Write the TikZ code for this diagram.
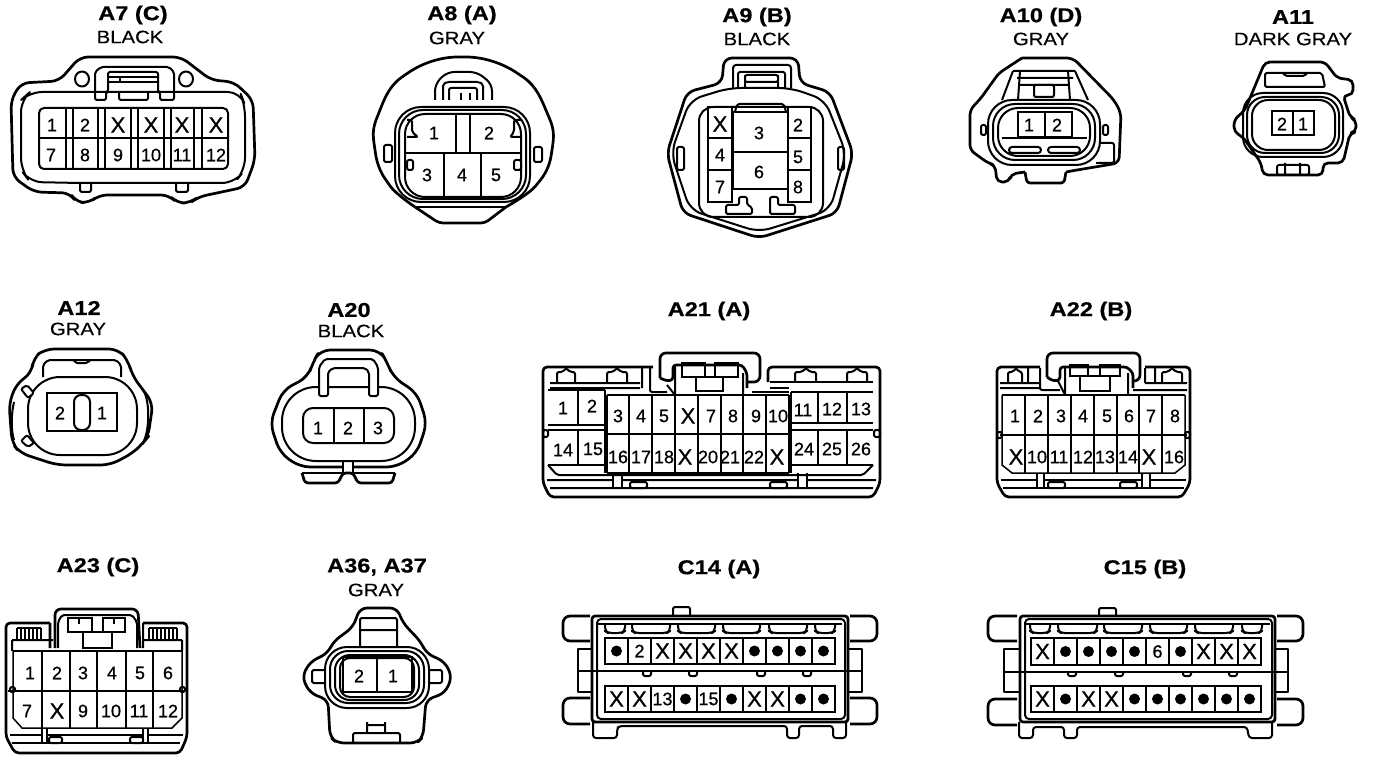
\documentclass[tikz,border=0pt]{standalone}
\usepackage{fontspec}
\setmainfont{Liberation Sans}
\newfontfamily\ttlf[FakeStretch=1.18,FakeBold=0.6]{Liberation Sans Bold}
\newfontfamily\sbtf[FakeStretch=1.13,FakeBold=0.3]{Liberation Sans}
\newfontfamily\pinf[FakeBold=0.7]{Liberation Sans}
\newcounter{pinno}
\tikzset{
 x=1pt,y=-1pt,
 ol/.style={draw=black,line width=2.7pt,rounded corners=4pt,line join=round},
 il/.style={draw=black,line width=2pt,rounded corners=2pt,line join=round},
 sharp/.style={draw=black,line width=2pt,sharp corners,line join=miter},
 thn/.style={draw=black,line width=1.5pt,sharp corners},
 ttl/.style={inner sep=0pt,font=\fontsize{20}{22}\ttlf},
 sbt/.style={inner sep=0pt,font=\fontsize{18}{20}\sbtf},
 pinl/.style={inner sep=0pt,font=\fontsize{18}{20}\pinf},
 xl/.style={inner sep=0pt,font=\fontsize{22}{24}\pinf},
 dotn/.style={circle,fill=black,inner sep=0pt,minimum size=11pt},
}
\newcommand{\pn}[3]{\stepcounter{pinno}\node[pinl] (pin\thepinno) at (#1,#2) {#3};}
\newcommand{\pinrow}[5]{% x0,y0,cell w,h,list
 \draw[sharp] (#1,#2) rectangle ({#1+10*#3},{#2+#4});
 \foreach \lab [count=\i from 0] in {#5}{
  \pgfmathsetmacro{\cx}{#1+(\i+.5)*#3}
  \pgfmathsetmacro{\cy}{#2+#4/2}
  \ifnum\i>0 \draw[sharp] ({#1+\i*#3},#2) -- ({#1+\i*#3},{#2+#4}); \fi
  \stepcounter{pinno}
  \def\tmpo{o}\def\tmpx{X}
  \ifx\lab\tmpo \node[dotn] (pin\thepinno) at (\cx,\cy) {};
  \else\ifx\lab\tmpx \node[xl] (pin\thepinno) at (\cx,\cy) {X};
  \else \node[pinl] (pin\thepinno) at (\cx,\cy) {\lab};\fi\fi
 }}
\begin{document}
\begin{tikzpicture}
\useasboundingbox (0,0) rectangle (1376,762);
\fill[white] (0,0) rectangle (1376,762);
% ---------- A7
\node[ttl] (tA7) at (133,15) {A7 (C)};
\node[sbt] (sA7) at (130,37) {BLACK};
\draw[ol,rounded corners=8pt] (80,57)--(181,57)--(211,80)--(234,82)--(253,100)--(255,160)--(245,187)--(198,197)--(190,203)--(177,203)--(169,195)--(99,195)--(89,203)--(76,202)--(70,193)--(34,192)--(13,177)--(11,100)--(21,83)--(59,81)--cycle;
\draw[il,rounded corners=12pt] (21,100)--(30,92)--(240,92)--(245,105)--(245,170)--(234,183)--(191,183)--(80,183)--(30,182)--(21,170)--cycle;
\draw[il] (80,183)--(80,192)--(91,192)--(91,183);
\draw[il] (176,183)--(176,192)--(188,192)--(188,183);
\draw[il] (95,100)--(95,72)--(101,67)--(169,67)--(174,72)--(174,100)--(160,100)--(160,92)--(158,92)--(158,72)--(108,72)--(108,92)--(106,92)--(106,100)--cycle;
\draw[il] (119,92)--(119,100)--(148,100)--(148,92);
\draw[il] (108,77)--(158,77) (108,82)--(158,82) (120,77)--(120,82);
\draw[il] (82,79) ellipse (7 and 7.5);
\draw[il] (186,79) ellipse (7 and 7.5);
\draw[il,rounded corners=5pt] (39,108)--(228,108)--(228,169)--(39,169)--cycle;
\draw[il] (39,138)--(228,138);
\foreach \a/\b in {66/73,98/105,131/138,164/171,194/202}{\draw[il] (\a,108)--(\a,169) (\b,108)--(\b,169);}
\pn{52}{125}{1}\pn{85}{125}{2}\node[xl] (x71) at (118,125) {X};\node[xl] (x72) at (151,125) {X};\node[xl] (x73) at (182,125) {X};\node[xl] (x74) at (216,125) {X};
\pn{51}{155}{7}\pn{85}{155}{8}\pn{118}{155}{9}\pn{151}{155}{10}\pn{182}{155}{11}\pn{216}{155}{12}
% ---------- A8
\node[ttl] (tA8) at (462,15) {A8 (A)};
\node[sbt] (sA8) at (457,38) {GRAY};
\draw[ol] plot[smooth,tension=.7] coordinates {(415,207)(388,183)(375,150)(378,115)(405,75)(462,57)(520,75)(548,115)(552,150)(538,183)(506,207)};
\draw[ol] (415,207)--(439,223)--(485,223)--(506,207);
\draw[il] (415,207)--(506,207);
\draw[il,rounded corners=26pt] (395,107) rectangle (530,202);
\draw[il,rounded corners=24pt] (399,110) rectangle (526,199);
\draw[il,rounded corners=20pt] (405,114) rectangle (521,197);
\draw[il,rounded corners=7pt] (435,100)--(435,84)--(447,72)--(477,72)--(492,84)--(492,100);
\draw[il] (443,100)--(443,84)--(447,82)--(479,82)--(483,84)--(483,100);
\draw[il] (449,100)--(449,88)--(477,88)--(477,100);
\draw[il] (461,93)--(461,100) (470,93)--(470,100);
\draw[il] (384,145) rectangle (392,162);
\draw[il] (534,147) rectangle (542,162);
\draw[sharp] (456,113)--(456,153) (470,113)--(470,153) (405,153)--(521,153) (444,153)--(444,197) (481,153)--(481,197);
\draw[il] (407,120)--(412,120)--(412,132)--(418,137)--(407,137);
\draw[il] (521,120)--(514,120)--(514,132)--(510,137)--(521,137);
\draw[il] (407,160) rectangle (413,170);
\draw[il] (514,160) rectangle (521,170);
\pn{434}{133}{1}\pn{489}{133}{2}\pn{427}{175}{3}\pn{462}{175}{4}\pn{496}{175}{5}
% ---------- A9
\node[ttl] (tA9) at (757,17) {A9 (B)};
\node[sbt] (sA9) at (757,39) {BLACK};
\draw[ol,rounded corners=8pt] (724,58)--(798,58)--(800,83)--(830,92)--(853,153)--(837,213)--(759,238)--(683,213)--(667,153)--(687,92)--(722,83)--cycle;
\draw[il,rounded corners=12pt] (729,88)--(791,88)--(825,100)--(846,153)--(830,210)--(759,232)--(690,210)--(671,153)--(690,100)--cycle;
\draw[il,rounded corners=14pt] (699,107) rectangle (823,217);
\draw[il,rounded corners=3pt] (733,88)--(733,65)--(791,65)--(791,88);
\draw[il] (738,88)--(738,72)--(785,72)--(785,88) (745,88)--(745,75) (778,88)--(778,75) (745,75) rectangle (778,82);
\draw[sharp] (708,107) rectangle (732,202) (708,138)--(732,138) (708,170)--(732,170);
\draw[sharp] (788,107) rectangle (811,202) (788,138)--(811,138) (788,170)--(811,170);
\draw[sharp] (733,112) rectangle (788,189) (733,152)--(788,152);
\draw[il] (735,112)--(737,104)--(784,104)--(786,112);
\draw[il] (739,197)--(747,197)--(747,205)--(752,207)--(752,214)--(726,214)--(726,205)--(739,205)--cycle;
\draw[il] (770,197)--(778,197)--(778,205)--(795,205)--(795,214)--(770,214)--cycle;
\draw[il] (677,147) rectangle (684,170);
\draw[il] (838,147) rectangle (844,170);
\node[xl] (x91) at (720,124) {X};\pn{720}{155}{4}\pn{720}{187}{7}\pn{759}{133}{3}\pn{759}{172}{6}\pn{798}{125}{2}\pn{798}{157}{5}\pn{798}{187}{8}
% ---------- A10
\node[ttl] (tA10) at (1041,17) {A10 (D)};
\node[sbt] (sA10) at (1041,39) {GRAY};
\draw[ol,rounded corners=6pt] (1022,58)--(1073,58)--(1114,100)--(1121,113)--(1119,163)--(1077,170)--(1066,172);
\draw[ol,rounded corners=3pt] (1066,172)--(1064,183)--(1027,183)--(1025,172);
\draw[ol,rounded corners=5pt] (1025,172)--(1011,174)--(1009,182)--(997,182)--(995,165)--(988,163)--(970,150)--(970,110)--(981,98)--(999,73)--(1022,58);
\draw[il,rounded corners=24pt] (988,100) rectangle (1100,165);
\draw[il,rounded corners=22pt] (993,104) rectangle (1095,160);
\draw[il,rounded corners=20pt] (998,108) rectangle (1090,156);
\draw[il] (1013,71)--(1002,100) (1075,71)--(1088,100) (1013,71)--(1075,71) (1017,78)--(1073,78) (1020,85)--(1068,85) (1020,71)--(1018,100) (1068,71)--(1070,100);
\draw[il] (1034,85) rectangle (1054,97);
\draw[sharp] (1018,112) rectangle (1072,137) (1045,112)--(1045,137) (1002,138)--(1087,138);
\draw[il,rounded corners=3pt] (1009,147) rectangle (1041,153);
\draw[il,rounded corners=3pt] (1048,147) rectangle (1080,153);
\draw[il] (981,125) rectangle (986,135);
\draw[il] (1103,125) rectangle (1108,135);
\draw[il] (1100,143)--(1114,143)--(1114,163)--(1096,163);
\pn{1029}{125}{1}\pn{1057}{125}{2}
% ---------- A11
\node[ttl] (tA11) at (1293,17) {A11};
\node[sbt] (sA11) at (1293,39) {DARK GRAY};
\draw[ol,rounded corners=5pt] (1265,62)--(1325,62)--(1337,78)--(1353,80)--(1353,95)--(1343,95)--(1350,117)--(1356,120)--(1356,132)--(1350,133)--(1343,163)--(1323,163)--(1323,175)--(1263,175)--(1261,163)--(1243,137)--(1234,132)--(1234,120)--(1245,110)--cycle;
\draw[il] (1265,73)--(1322,73)--(1325,87)--(1265,87)--cycle (1283,73)--(1285,76)--(1305,76)--(1307,73);
\draw[il,rounded corners=20pt] (1243,93) rectangle (1343,157);
\draw[il,rounded corners=18pt] (1247,97) rectangle (1339,153);
\draw[il,rounded corners=16pt] (1252,100) rectangle (1335,150);
\draw[sharp] (1272,111) rectangle (1314,135) (1293,111)--(1293,135);
\draw[il] (1277,165) rectangle (1309,175) (1285,163)--(1285,175) (1300,163)--(1300,175);
\pn{1282}{124}{2}\pn{1303}{124}{1}
% ---------- A12
\node[ttl] (tA12) at (79,308) {A12};
\node[sbt] (sA12) at (78,329) {GRAY};
\draw[ol,rounded corners=9pt] (45,349)--(118,349)--(128,360)--(132,375)--(143,390)--(153,403)--(148,437)--(143,443)--(133,453)--(110,465)--(57,465)--(20,453)--(12,443)--(9,403)--(17,383)--(32,373)--(33,358)--cycle;
\draw[il,rounded corners=32pt] (28,377) rectangle (137,455);
\draw[il] (43,377)--(43,365)--(48,360)--(116,360)--(121,365)--(121,377);
\draw[il] (74,360)--(75,363)--(88,363)--(90,360);
\draw[sharp] (47,393) rectangle (117,431);
\draw[il,rounded corners=7pt,fill=white] (74,395) rectangle (90,430);
\draw[il,fill=white] (21,389)--(27,385)--(34,393)--(28,398)--cycle (21,441)--(27,435)--(34,443)--(28,447)--cycle;
\draw[il] (143,390) .. controls (150,400) and (150,430) .. (143,443);
\draw[il] (14,402) .. controls (11,415) and (11,430) .. (14,440);
\pn{60}{413}{2}\pn{102}{413}{1}
% ---------- A20
\node[ttl] (tA20) at (349,310) {A20};
\node[sbt] (sA20) at (351,331) {BLACK};
\draw[ol,rounded corners=10pt] (343,467)--(300,467)--(280,453)--(270,423)--(283,390)--(308,377)--(313,362)--(320,350)--(380,350)--(387,362)--(393,377)--(417,393)--(427,423)--(417,453)--(397,467)--(353,467);
\draw[ol,rounded corners=3pt] (302,473)--(305,483)--(338,483)--(343,473)--(353,473)--(358,483)--(392,483)--(395,473);
\draw[il,sharp corners] (302,473)--(343,473) (353,473)--(395,473);
\draw[il,rounded corners=34pt] (282,387) rectangle (415,461);
\draw[il,fill=white] (319,396)--(319,367)--(325,359)--(373,359)--(378,367)--(378,396)--(369,396)--(369,372)--(365,368)--(333,368)--(328,372)--(328,396)--cycle;
\draw[il,rounded corners=10pt] (303,408) rectangle (394,443);
\draw[sharp] (334,408)--(334,443) (364,408)--(364,443);
\draw[il,sharp corners] (343,461)--(343,473) (353,461)--(353,473);
\pn{318}{428}{1}\pn{348}{428}{2}\pn{378}{428}{3}
% ---------- A21
\node[ttl] (tA21) at (709,311) {A21 (A)};
\draw[ol] (653,367)--(543,367)--(543,483)--(550,497)--(873,497)--(880,483)--(880,367)--(768,367)--(768,382);
\draw[ol,rounded corners=6pt] (660,378)--(660,353)--(760,353)--(760,382)--(748,382);
\draw[ol,rounded corners=3pt] (660,378)--(667,381)--(673,380)--(673,365)--(742,365)--(747,373)--(747,388);
\draw[il] (675,365)--(675,395) (743,373)--(743,395) (667,385)--(675,395);
\draw[il] (550,383)--(640,383) (550,388)--(640,388) (642,368)--(642,388) (650,368)--(650,392)--(667,392);
\draw[il] (770,382)--(873,382) (770,388)--(789,388) (752,392)--(789,392);
\draw[il] (557,383)--(557,372)--(563,372)--(566,368)--(570,372)--(575,372)--(575,383);
\draw[il] (607,383)--(607,372)--(613,372)--(617,368)--(621,372)--(627,372)--(627,383);
\draw[il] (795,382)--(795,372)--(802,372)--(806,368)--(810,372)--(816,372)--(816,382);
\draw[il] (847,382)--(847,372)--(853,372)--(857,368)--(861,372)--(867,372)--(867,382);
\draw[sharp] (682,363) rectangle (705,377) (715,363) rectangle (738,377) (696,377) rectangle (723,391);
\draw[thn] (578,390)--(578,425) (578,430)--(578,465) (548,390)--(605,390) (548,465)--(605,465);
\draw[sharp] (605,390)--(605,473) (548,425)--(605,425) (548,430)--(605,430);
\foreach \a in {607,629,652,675,698,721,743,766,789}{\draw[thn] (\a,395)--(\a,473);}
\draw[sharp] (607,395)--(789,395) (607,434)--(789,434) (607,473)--(789,473);
\draw[sharp] (791,392)--(873,392) (791,423)--(873,423) (791,430)--(873,430) (791,465)--(873,465) (791,392)--(791,473);
\draw[thn] (818,392)--(818,423) (847,392)--(847,423) (818,430)--(818,465) (847,430)--(847,465);
\draw[il] (543,430) rectangle (548,437) (874,430) rectangle (880,437);
\draw[il] (548,465)--(557,475)--(863,475)--(873,465) (547,480)--(613,480) (622,480)--(798,480) (807,480)--(876,480) (550,488)--(873,488);
\draw[il] (613,473)--(613,488) (622,473)--(622,488) (798,473)--(798,488) (807,473)--(807,488);
\draw[il] (630,482) rectangle (647,488) (770,482) rectangle (787,488);
\pn{563}{408}{1}\pn{592}{406}{2}\pn{618}{416}{3}\pn{641}{416}{4}\pn{664}{416}{5}\node[xl] (x211) at (688,416) {X};\pn{711}{416}{7}\pn{733}{416}{8}\pn{756}{416}{9}\pn{778}{416}{10}\pn{803}{410}{11}\pn{832}{409}{12}\pn{861}{409}{13}
\pn{563}{450}{14}\pn{593}{449}{15}\pn{618}{457}{16}\pn{641}{457}{17}\pn{664}{457}{18}\node[xl] (x212) at (685,457) {X};\pn{708}{457}{20}\pn{730}{457}{21}\pn{754}{457}{22}\node[xl] (x213) at (777,457) {X};\pn{804}{449}{24}\pn{832}{449}{25}\pn{861}{449}{26}
% ---------- A22
\node[ttl] (tA22) at (1091,311) {A22 (B)};
\draw[ol] (1040,367)--(997,367)--(997,483)--(1005,497)--(1182,497)--(1190,483)--(1190,367)--(1145,367);
\draw[ol,rounded corners=6pt] (1047,377)--(1047,353)--(1140,353)--(1140,381)--(1133,381);
\draw[ol,rounded corners=3pt] (1047,377)--(1053,381)--(1060,380)--(1060,367)--(1127,367)--(1133,373)--(1133,388);
\draw[il] (1065,367)--(1065,395) (1128,373)--(1128,395) (1058,381)--(1065,395);
\draw[il] (1000,388)--(1040,388) (1000,383)--(1040,383) (1028,368)--(1028,383) (1040,368)--(1040,390)--(1060,390) (1133,390)--(1187,390) (1145,368)--(1145,383) (1155,368)--(1155,383) (1145,383)--(1187,383);
\draw[il] (1008,383)--(1008,372)--(1013,372)--(1016,368)--(1019,372)--(1022,372)--(1022,383);
\draw[il] (1162,383)--(1162,372)--(1168,372)--(1172,368)--(1176,372)--(1182,372)--(1182,383);
\draw[sharp] (1070,365) rectangle (1088,376) (1100,365) rectangle (1120,376) (1080,376) rectangle (1110,391);
\foreach \a in {1025,1048,1071,1094,1117,1139,1162}{\draw[thn] (\a,395)--(\a,473);}
\draw[sharp] (1002,395)--(1185,395) (1000,435)--(1187,435);
\draw[thn] (1002,395)--(1002,465)--(1012,473)--(1175,473)--(1185,465)--(1185,395);
\draw[il] (997,432) rectangle (1002,438) (1185,432) rectangle (1190,438);
\draw[il] (1001,480)--(1037,480) (1044,480)--(1142,480) (1150,480)--(1186,480) (1003,488)--(1184,488);
\draw[il] (1037,473)--(1037,488) (1044,473)--(1044,488) (1142,473)--(1142,488) (1150,473)--(1150,488);
\draw[il] (1048,482) rectangle (1065,488) (1120,482) rectangle (1137,488);
\pn{1015}{416}{1}\pn{1038}{416}{2}\pn{1061}{416}{3}\pn{1083}{416}{4}\pn{1107}{416}{5}\pn{1129}{416}{6}\pn{1151}{416}{7}\pn{1175}{416}{8}
\node[xl] (x221) at (1016,457) {X};\pn{1037}{457}{10}\pn{1059}{457}{11}\pn{1083}{457}{12}\pn{1105}{457}{13}\pn{1128}{457}{14}\node[xl] (x222) at (1149,457) {X};\pn{1174}{457}{16}
% ---------- A23
\node[ttl] (tA23) at (98,567) {A23 (C)};
\draw[ol] (50,623)--(6,623)--(6,737)--(15,753)--(180,753)--(187,737)--(187,623)--(143,623);
\draw[ol,rounded corners=6pt] (50,623)--(50,648) (55,648)--(55,609)--(138,609)--(140,648);
\draw[il] (58,648)--(58,622)--(62,615)--(132,615)--(137,622)--(137,648) (12,640)--(53,640) (143,640)--(182,640) (12,640)--(12,651) (182,640)--(182,651) (143,623)--(143,648);
\foreach \a in {17,21,25,29,33,37,41,149,153,157,161,165,169,173,177}{\draw[thn] (\a,628)--(\a,640);}
\draw[il] (17,628)--(41,628) (149,628)--(177,628);
\draw[sharp] (68,618) rectangle (92,632) (103,618) rectangle (125,632) (83,632) rectangle (112,648) (79,618)--(79,624) (114,618)--(114,624);
\foreach \a in {42,70,97,126,153}{\draw[thn] (\a,651)--(\a,728);}
\draw[sharp] (13,651)--(182,651) (8,691)--(185,691);
\draw[thn] (13,651)--(13,718)--(22,728)--(172,728)--(182,718)--(182,651);
\draw[il] (10,687) rectangle (15,692) (180,687) rectangle (185,692);
\draw[il] (10,735)--(42,735) (47,735)--(143,735) (148,735)--(183,735) (12,743)--(180,743);
\draw[il] (42,728)--(42,743) (47,728)--(47,743) (143,728)--(143,743) (148,728)--(148,743);
\draw[il] (49,737) rectangle (62,743) (130,737) rectangle (143,743);
\pn{30}{673}{1}\pn{57}{673}{2}\pn{83}{673}{3}\pn{112}{673}{4}\pn{140}{673}{5}\pn{168}{673}{6}
\pn{27}{711}{7}\node[xl] (x231) at (57,711) {X};\pn{83}{711}{9}\pn{111}{711}{10}\pn{139}{711}{11}\pn{168}{711}{12}
% ---------- A36, A37
\node[ttl] (tA36) at (377,567) {A36, A37};
\node[sbt] (sA36) at (376,590) {GRAY};
\draw[ol,rounded corners=7pt] (360,608)--(397,608)--(403,623)--(421,642)--(426,653)--(445,662)--(452,677)--(445,693)--(426,700)--(423,737)--(417,743)--(337,743)--(330,737)--(328,700)--(310,693)--(302,677)--(310,662)--(328,653)--(333,642)--(353,627)--cycle;
\draw[il,rounded corners=22pt] (325,647) rectangle (429,708);
\draw[il,rounded corners=18pt] (330,651) rectangle (424,703);
\draw[il,rounded corners=15pt] (335,655) rectangle (419,700);
\draw[il,rounded corners=10pt] (340,658) rectangle (414,697);
\draw[sharp] (343,657) rectangle (412,692) (377,657)--(377,692);
\draw[il] (360,647)--(360,618)--(397,618)--(397,647) (360,630)--(397,630);
\draw[il] (325,670)--(312,670)--(312,683)--(325,683) (429,670)--(442,670)--(442,683)--(429,683);
\draw[il] (353,743)--(353,733)--(400,733)--(400,743) (367,722)--(367,733) (385,722)--(385,733) (367,725)--(385,725);
\pn{359}{676}{2}\pn{393}{676}{1}
% ---------- C14
\node[ttl] (tC14) at (719,569) {C14 (A)};
\draw[il] (673,615)--(673,607)--(690,607)--(690,615);
\draw[ol,rounded corners=3pt] (592,616) rectangle (848,722);
\draw[il,rounded corners=4pt] (597,619) rectangle (845,719);
\draw[ol,rounded corners=3pt] (590,616)--(567,616)--(563,620)--(563,637)--(567,641)--(590,641);
\draw[ol,rounded corners=3pt] (590,698)--(567,698)--(563,702)--(563,720)--(567,724)--(590,724);
\draw[ol,rounded corners=3pt] (850,616)--(873,616)--(877,620)--(877,637)--(873,641)--(850,641);
\draw[ol,rounded corners=3pt] (850,698)--(873,698)--(877,702)--(877,720)--(873,724)--(850,724);
\draw[il,sharp corners] (592,649)--(578,649)--(578,692)--(592,692) (848,649)--(862,649)--(862,692)--(848,692);
\draw[thn] (578,671)--(862,671);
\draw[il,rounded corners=3pt] (593,722)--(593,738)--(617,738)--(617,729)--(619,726)--(787,726)--(787,738)--(799,738)--(799,726)--(833,726)--(833,738)--(846,738)--(846,722);
\foreach \a/\b in {605/625,632/670,678/715,723/760,769/807,815/835}{\draw[il,rounded corners=4pt] (\a,623)--(\a,631)--(\a+3,633)--(\b-3,633)--(\b,631)--(\b,623);}
\draw[il] (598,624)--(842,624);
\foreach \a in {643,689,757,803}{\draw[il] (\a,672)--(\a,676)--(\a+8,676)--(\a+8,672);}
\pinrow{605}{638}{23}{26}{o,2,X,X,X,X,o,o,o,o}
\pinrow{605}{686}{23}{26}{X,X,13,o,15,o,X,X,o,o}
% ---------- C15
\node[ttl] (tC15) at (1145,569) {C15 (B)};
\draw[il] (1099,615)--(1099,608)--(1116,608)--(1116,615);
\draw[ol,rounded corners=3pt] (1020,616) rectangle (1275,722);
\draw[il,rounded corners=4pt] (1025,619) rectangle (1272,719);
\draw[ol,rounded corners=3pt] (1017,616)--(992,616)--(988,620)--(988,637)--(992,641)--(1017,641);
\draw[ol,rounded corners=3pt] (1017,699)--(992,699)--(988,703)--(988,721)--(992,725)--(1017,725);
\draw[ol,rounded corners=3pt] (1277,616)--(1299,616)--(1303,620)--(1303,637)--(1299,641)--(1277,641);
\draw[ol,rounded corners=3pt] (1277,699)--(1299,699)--(1303,703)--(1303,721)--(1299,725)--(1277,725);
\draw[il,sharp corners] (1020,649)--(1004,649)--(1004,692)--(1020,692) (1275,649)--(1288,649)--(1288,692)--(1275,692);
\draw[thn] (1004,672)--(1288,672);
\draw[il,rounded corners=3pt] (1019,722)--(1019,738)--(1033,738)--(1033,727)--(1064,727)--(1064,738)--(1077,738)--(1077,727)--(1247,727)--(1249,738)--(1272,738)--(1272,722);
\foreach \a/\b in {1030/1050,1058/1097,1104/1142,1150/1187,1195/1233,1242/1262}{\draw[il,rounded corners=4pt] (\a,623)--(\a,631)--(\a+3,633)--(\b-3,633)--(\b,631)--(\b,623);}
\draw[il] (1026,624)--(1270,624);
\foreach \a in {1068,1115,1183,1229}{\draw[il] (\a,672)--(\a,676)--(\a+8,676)--(\a+8,672);}
\pinrow{1031}{638}{23}{27}{X,o,o,o,o,6,o,X,X,X}
\pinrow{1031}{686}{23}{26}{X,o,X,X,o,o,o,o,o,o}
\end{tikzpicture}
\end{document}
